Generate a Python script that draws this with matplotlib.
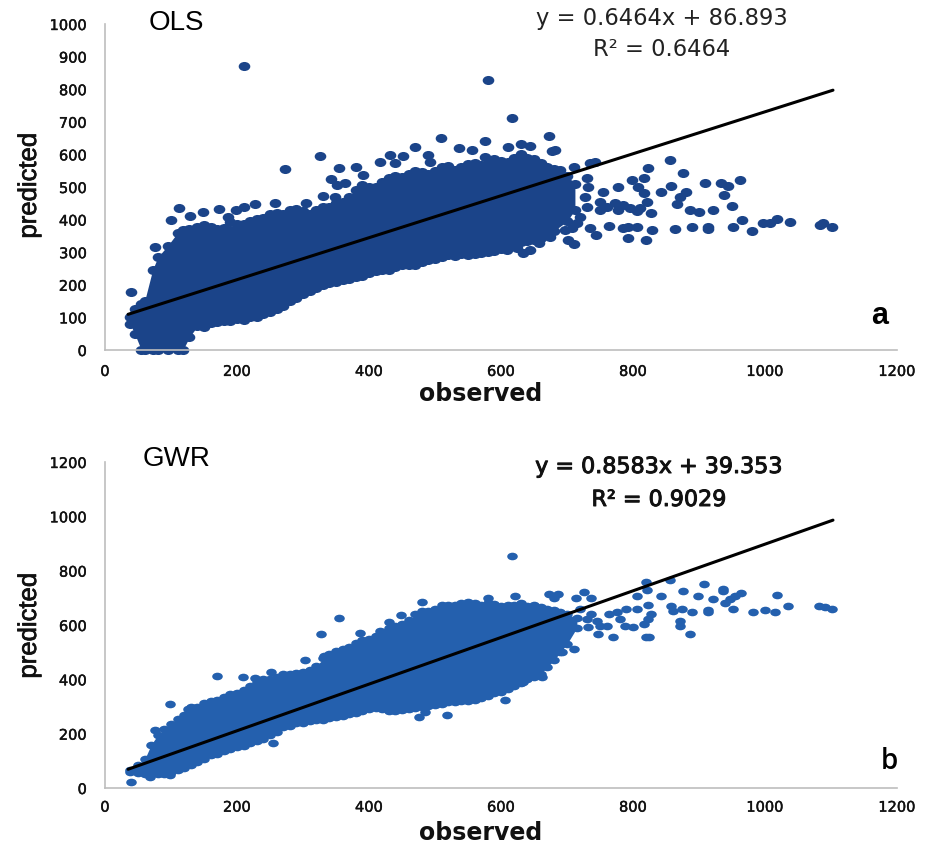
import matplotlib
matplotlib.use("Agg")
import matplotlib.pyplot as plt
import matplotlib.patheffects as pe
from matplotlib.path import Path
from matplotlib.transforms import Affine2D

# ---- OLS panel ----
ols_cloud_x = [38, 45, 55, 60, 72, 80, 95, 110, 118, 128, 140, 160, 180, 200, 220, 240, 260, 280, 300, 320, 340, 360, 380, 400, 420, 440, 460, 480, 500, 520, 540, 560, 580, 600, 620, 640, 660, 680, 700, 712]
ols_cloud_high = [100, 125, 140, 150, 245, 285, 320, 360, 368, 372, 378, 378, 375, 385, 395, 405, 420, 428, 425, 430, 440, 455, 490, 500, 515, 535, 540, 545, 548, 565, 560, 575, 575, 580, 590, 590, 575, 555, 535, 510]
ols_cloud_low = [80, 50, 0, 0, 0, 0, 0, 0, 0, 40, 73, 82, 90, 94, 100, 110, 125, 150, 172, 190, 205, 215, 225, 235, 245, 255, 262, 270, 280, 290, 293, 295, 300, 310, 325, 335, 345, 365, 395, 430]
ols_x = [211, 580, 509, 576, 469, 537, 556, 326, 432, 452, 416, 439, 489, 492, 381, 354, 273, 576, 391, 342, 364, 351, 331, 348, 305, 257, 227, 210, 199, 173, 112, 149, 129, 100, 187, 40, 76,
         617, 673, 610, 631, 644, 677, 682, 856, 822, 875, 962, 909, 934, 944, 858, 778, 798, 816, 808, 816, 821, 827, 811, 843, 881, 871, 866, 938, 950, 921, 900, 887, 965, 1018, 1008, 997, 1038, 1083, 1088, 1101, 981, 952, 914, 914, 889, 863, 829, 819, 792, 785, 793, 806, 763, 735, 744, 710, 702, 657, 634, 644, 624, 609,
         730, 732, 727, 730, 755, 750, 760, 773, 785, 778, 795, 806, 750, 742, 735, 710, 689, 720, 715, 707, 694, 674, 697,
         150, 170, 190, 210, 230, 250, 270, 290, 310, 330, 350, 370, 390, 410, 430, 450, 470, 490, 510, 530, 550, 570, 590, 610, 630, 650, 670, 690,
         150, 170, 190, 210, 230, 250, 270, 290, 310, 330, 350, 370, 390, 410, 430, 450, 470, 490, 510, 530, 550, 570, 590, 610, 630, 650, 670]
ols_y = [871, 828, 649, 641, 622, 619, 614, 595, 598, 595, 578, 573, 598, 578, 562, 558, 554, 593, 537, 524, 513, 506, 472, 470, 452, 452, 448, 440, 430, 432, 435, 424, 411, 399, 407, 179, 315,
         713, 657, 622, 631, 626, 610, 613, 583, 558, 542, 521, 511, 511, 503, 503, 499, 521, 527, 501, 481, 455, 419, 435, 484, 484, 470, 448, 476, 443, 428, 423, 428, 399, 402, 389, 389, 393, 382, 391, 376, 364, 376, 371, 378, 376, 370, 368, 336, 345, 373, 376, 376, 380, 373, 352, 324, 337, 329, 299, 307, 312, 307,
         527, 501, 470, 440, 486, 455, 440, 450, 445, 430, 435, 427, 430, 578, 573, 562, 552, 409, 389, 373, 404, 348, 368,
         382, 372, 392, 388, 402, 418, 418, 432, 418, 438, 452, 470, 505, 500, 528, 532, 548, 540, 560, 552, 572, 568, 585, 578, 600, 585, 560, 540,
         70, 85, 88, 92, 100, 118, 135, 160, 180, 198, 208, 218, 228, 242, 245, 260, 262, 275, 285, 288, 290, 298, 303, 318, 330, 338, 352]
ols_line_x = [35, 1103]
ols_line_y = [109.5, 797]

# ---- GWR panel ----
gwr_cloud_x = [38, 50, 60, 70, 80, 100, 120, 140, 160, 180, 200, 220, 240, 260, 280, 300, 320, 340, 360, 380, 400, 420, 440, 460, 480, 500, 520, 540, 560, 580, 600, 620, 640, 660, 680, 700, 715]
gwr_cloud_high = [65, 85, 105, 160, 195, 235, 270, 300, 320, 335, 350, 375, 400, 410, 420, 428, 450, 495, 510, 535, 550, 575, 595, 620, 650, 660, 675, 680, 680, 680, 670, 675, 670, 665, 655, 640, 625]
gwr_cloud_low = [60, 55, 50, 52, 52, 60, 75, 95, 120, 135, 150, 165, 180, 205, 230, 240, 250, 258, 265, 275, 290, 290, 285, 290, 300, 305, 315, 320, 325, 340, 355, 375, 400, 420, 470, 530, 590]
gwr_x = [354, 327, 303, 332, 169, 209, 227, 252, 99, 130, 125, 75, 39, 518, 475, 485, 581, 481, 449, 431, 417, 386, 255, 98, 68,
         617, 621, 673, 687, 680, 714, 725, 737, 819, 821, 806, 856, 908, 937, 937, 875, 842, 898, 921, 963, 955, 947, 939, 1018, 1035, 1082, 1091, 1102, 822, 858, 861, 874, 889, 913, 913, 952, 982, 1000, 1015, 871, 871, 887, 770, 819, 824, 747, 710, 692, 662, 634, 606,
         737, 763, 790, 780, 800, 788, 816, 828, 823, 750, 732, 720, 775, 806, 745, 760, 730,
         90, 110, 130, 150, 170, 190, 210, 230, 250, 270, 290, 310, 330, 350, 370, 390, 410, 430, 450, 470, 490, 510, 530, 550, 570, 590, 610, 630, 650, 670, 690,
         90, 110, 130, 150, 170, 190, 210, 230, 250, 270, 290, 310, 330, 350, 370, 390, 410, 430, 450, 470, 490, 510, 530, 550, 570, 590, 610, 630, 650, 670, 690]
gwr_y = [625, 567, 472, 485, 414, 410, 405, 426, 309, 297, 290, 215, 21, 269, 260, 279, 698, 686, 635, 612, 579, 571, 165, 48, 39,
         853, 708, 714, 714, 700, 700, 720, 698, 757, 727, 708, 766, 750, 733, 724, 724, 707, 707, 695, 717, 706, 696, 681, 712, 671, 671, 665, 658, 674, 671, 653, 659, 647, 647, 655, 658, 647, 655, 647, 616, 598, 567, 555, 555, 555, 567, 512, 500, 410, 389, 325,
         641, 641, 659, 622, 592, 598, 604, 641, 622, 598, 592, 659, 647, 659, 616, 598, 622,
         218, 255, 288, 312, 325, 345, 362, 392, 402, 418, 425, 435, 480, 505, 520, 545, 560, 590, 605, 640, 650, 672, 672, 685, 675, 678, 672, 682, 675, 660, 648,
         50, 65, 85, 108, 125, 142, 155, 172, 195, 225, 238, 245, 252, 262, 272, 282, 295, 285, 288, 295, 302, 310, 318, 322, 332, 348, 365, 388, 410, 445, 500]
gwr_line_x = [35, 1103]
gwr_line_y = [69, 986]

x_ticks = [0, 200, 400, 600, 800, 1000, 1200]
ols_y_ticks = [0, 100, 200, 300, 400, 500, 600, 700, 800, 900, 1000]
gwr_y_ticks = [0, 200, 400, 600, 800, 1000, 1200]

OLS_COLOR = "#1B4489"
GWR_COLOR = "#2460AE"
INK = "#111111"
W, H = 930, 845


def ellipse(ratio):
    return Path.unit_circle().transformed(Affine2D().scale(1, ratio))


def heavy(width):
    return [pe.withStroke(linewidth=width, foreground=INK)]


def panel(top, bottom, ymax, yticks, cx, chi, clo, px, py, lx, ly, color, s, ratio, xpad):
    ax = plt.figure(1).add_axes([105 / W, 1 - bottom / H, (897 - 105) / W, (bottom - top) / H])
    m = ellipse(ratio)
    ax.fill_between(cx, clo, chi, color=color, lw=0, zorder=2, clip_on=False)
    for ys in (chi, clo):
        ax.scatter(cx, ys, s=s, marker=m, color=color, lw=0, zorder=2, clip_on=False)
    ax.scatter(px, py, s=s, marker=m, color=color, lw=0, zorder=2, clip_on=False)
    ax.plot(lx, ly, color="black", lw=2.2, zorder=3, solid_capstyle="round")
    ax.set_xlim(0, 1200)
    ax.set_ylim(0, ymax)
    ax.set_xticks(x_ticks)
    ax.set_yticks(yticks)
    ax.tick_params(axis="x", length=0, pad=xpad, labelsize=10.5, labelcolor=INK)
    ax.tick_params(axis="y", length=0, pad=13, labelsize=10.5, labelcolor=INK)
    for lab in ax.get_xticklabels() + ax.get_yticklabels():
        lab.set_path_effects(heavy(0.3))
    for side in ("top", "right"):
        ax.spines[side].set_visible(False)
    for side in ("left", "bottom"):
        ax.spines[side].set_color("#BDBDBD")
        ax.spines[side].set_linewidth(1.2)
    return ax


fig = plt.figure(1, figsize=(9.3, 8.45), dpi=100, facecolor="white")
panel(25, 351, 1000, ols_y_ticks, ols_cloud_x, ols_cloud_high, ols_cloud_low, ols_x, ols_y,
      ols_line_x, ols_line_y, OLS_COLOR, 70, 0.78, 10)
panel(463, 789, 1200, gwr_y_ticks, gwr_cloud_x, gwr_cloud_high, gwr_cloud_low, gwr_x, gwr_y,
      gwr_line_x, gwr_line_y, GWR_COLOR, 58, 0.72, 8.4)


def put(px, py, s, **kw):
    fig.text(px / W, 1 - py / H, s, ha="center", va="center", **kw)


put(176.5, 23, "OLS", family="Liberation Sans", fontsize=20)
put(177, 459, "GWR", family="Liberation Sans", fontsize=20)
put(662, 19, "y = 0.6464x + 86.893", family="DejaVu Sans", fontsize=16.3, color="#222222")
put(662, 49, "R² = 0.6464", family="DejaVu Sans", fontsize=16.3, color="#222222")
put(659, 468, "y = 0.8583x + 39.353", family="DejaVu Sans", fontsize=16, color=INK, path_effects=heavy(0.7))
put(659, 501, "R² = 0.9029", family="DejaVu Sans", fontsize=16, color=INK, path_effects=heavy(0.7))
put(880, 316, "a", family="Liberation Sans", fontsize=22, weight="bold")
put(889, 762, "b", family="Open Sans", fontsize=20, weight="semibold")
put(481, 394, "observed", family="DejaVu Sans", fontsize=17, weight="bold", color=INK)
put(481, 833, "observed", family="DejaVu Sans", fontsize=17, weight="bold", color=INK)
put(29, 186.5, "predicted", family="Liberation Sans", fontsize=18.5, rotation=90, color=INK, path_effects=heavy(0.5))
put(29, 626.5, "predicted", family="Liberation Sans", fontsize=18.5, rotation=90, color=INK, path_effects=heavy(0.5))

fig.savefig("out.png", dpi=100)
